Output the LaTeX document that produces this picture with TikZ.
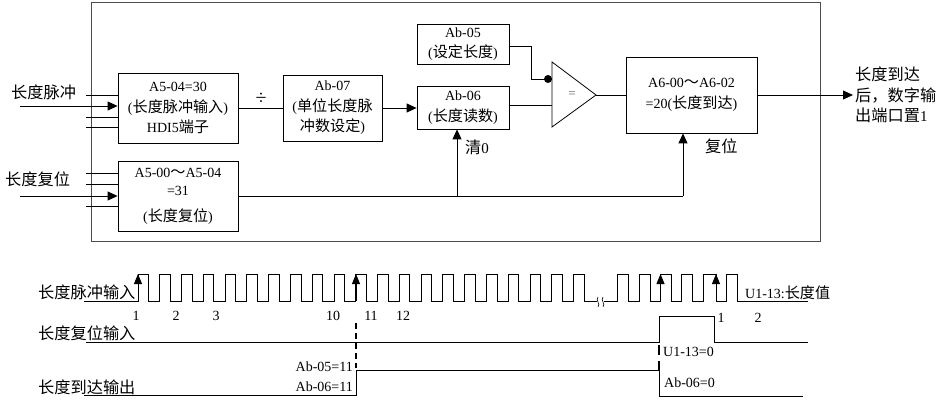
\documentclass[tikz,border=0pt]{standalone}
\usepackage{fontspec}
\setmainfont{Liberation Serif}
\newfontfamily\cjkfont[Scale=1.08]{Noto Sans CJK SC}
\newcommand\zhtxt[1]{{\cjkfont #1}}
\usetikzlibrary{arrows.meta}
\begin{document}
\begin{tikzpicture}[x=1pt,y=-1pt,
  every node/.style={inner sep=0pt},
  box/.style={draw, line width=0.8pt, align=center, font=\fontsize{14}{20.5}\selectfont},
  ln/.style={line width=0.8pt},
  arr/.style={line width=0.8pt,-{Triangle[length=10pt,width=9pt]}},
  tarr/.style={line width=0.8pt,-{Triangle[length=10pt,width=8pt]}},
  lbl/.style={font=\fontsize{15}{20.5}\selectfont},
  txt/.style={font=\fontsize{14}{18}\selectfont},
  wave/.style={line width=0.8pt},
  thickmark/.style={line width=2.2pt}
]
\useasboundingbox (0,0) rectangle (946,401);
% outer frame
\draw[line width=1pt, gray!60!black] (91,3) rectangle (820,241);

% boxes
\node[box, minimum width=120pt, minimum height=70pt] (b1) at (178,108) {A5-04=30\\(\zhtxt{长度脉冲输入})\\HDI5\zhtxt{端子}};
\node[box, minimum width=120pt, minimum height=70pt, font=\fontsize{14}{18}\selectfont] (b2) at (178,196) {A5-00\zhtxt{～}A5-04\\=31\\[8pt](\zhtxt{长度复位})};
\node[box, minimum width=99pt, minimum height=66pt] (b7) at (332.5,108) {Ab-07\\(\zhtxt{单位长度脉}\\\zhtxt{冲数设定})};
\node[box, minimum width=92pt, minimum height=43pt] (b6) at (463,107.5) {Ab-06\\(\zhtxt{长度读数})};
\node[box, minimum width=92pt, minimum height=40pt] (b5) at (463,44) {Ab-05\\(\zhtxt{设定长度})};
\node[box, minimum width=131pt, minimum height=76pt] (a6) at (691.5,95) {A6-00\zhtxt{～}A6-02\\=20(\zhtxt{长度到达})};

% comparator
\coordinate (ct) at (552,62);
\coordinate (cb) at (552,127);
\coordinate (tip) at (596,95);
\draw[ln] (ct) -- (tip) -- (cb) -- cycle;
\node[font=\fontsize{13}{13}\selectfont, text=gray!80!black] (eq) at (572,95) {=};

% input labels
\node[lbl, anchor=west] (lin1) at (11,92) {\zhtxt{长度脉冲}};
\node[lbl, anchor=west] (lin2) at (5,179) {\zhtxt{长度复位}};

% inputs to b1
\coordinate (i1) at (20,106);
\draw[arr] (i1) -- (i1 -| b1.west);
\foreach \yy/\nm in {95/s1,117/s2,127/s3}{
  \coordinate (\nm) at (86,\yy);
  \draw[ln] (\nm) -- (\nm -| b1.west);
}
% inputs to b2
\coordinate (i2) at (20,196);
\draw[arr] (i2) -- (i2 -| b2.west);
\foreach \yy/\nm in {173/t1,184/t2,206/t3}{
  \coordinate (\nm) at (86,\yy);
  \draw[ln] (\nm) -- (\nm -| b2.west);
}

% b1 -> b7
\draw[ln] (b1.east) -- (b7.west);
\node[font=\fontsize{20}{20}\selectfont] (div) at (261,99) {÷};
% b7 -> b6
\draw[arr] (b7.east) -- (b7.east -| b6.west);
% b5 -> comparator
\coordinate (k1) at (531,46);
\coordinate (k2) at (531,79);
\coordinate (cin1) at (552,79);
\draw[ln] (b5.east |- k1) -- (k1) -- (k2) -- (cin1);
\fill (548,79) circle (4pt);
% b6 -> comparator
\coordinate (cin2) at (552,105);
\draw[ln] (b6.east |- cin2) -- (cin2);
% comparator -> a6
\draw[ln] (tip) -- (tip -| a6.west);
% a6 -> output
\coordinate (out) at (853,95);
\draw[arr] (a6.east) -- (out);
\node[anchor=west, align=left, font=\fontsize{15}{20.5}\selectfont] (olab) at (855,95) {\zhtxt{长度到达}\\\zhtxt{后，数字输}\\\zhtxt{出端口置}1};

% reset lines
\coordinate (j1) at (457,196);
\coordinate (j2) at (683,196);
\draw[ln] (b2.east) -- (j2);
\draw[arr] (j1) -- (j1 |- b6.south);
\draw[arr] (j2) -- (j2 |- a6.south);
\node[lbl, anchor=west] (clr) at (465,147) {\zhtxt{清}0};
\node[lbl, anchor=west] (rst) at (705,146) {\zhtxt{复位}};

% ---------------- timing diagram ----------------
\node[lbl, anchor=west] (w1) at (38,292) {\zhtxt{长度脉冲输入}};
\node[lbl, anchor=west] (w2) at (38,333) {\zhtxt{长度复位输入}};
\node[lbl, anchor=west] (w3) at (38,387) {\zhtxt{长度到达输出}};

% pulse train part 1
\draw[wave] (84,301) foreach \k in {0,...,20}{ -- ({138+21.775*\k},301) -- ++(0,-27) -- ++(10.5,0) -- ++(0,27) } -- (597,301);
% break symbol
\draw[line width=0.6pt] (598,297) .. controls (595,300) and (601,304) .. (598,307);
\draw[line width=0.6pt] (603,297) .. controls (600,300) and (606,304) .. (603,307);
% pulse train part 2
\draw[wave] (604,301) foreach \r/\f in {617/628,639/650,660.5/671.5,681.5/692.5,703/716,726.5/737}{ -- (\r,301) -- (\r,274) -- (\f,274) -- (\f,301) } -- (808,301);
% arrows on pulses
\foreach \xx in {138,356,660.5,716}{
  \draw[tarr] (\xx,301) -- (\xx,274);
}
% numbers
\foreach \xx/\tt in {136/1,176/2,216/3,333/10,371/11,403/12}{
  \node[txt] at (\xx,316) {\tt};
}
\node[txt] at (721,318) {1};
\node[txt] at (758,318) {2};
\node[txt, anchor=west] (u113) at (745,293) {U1-13:\zhtxt{长度值}};

% reset input signal
\draw[wave] (86,342) -- (659,342) -- (659,316) -- (714,316) -- (714,342) -- (808,342);
% length reached output
\draw[wave] (84,395) -- (356,395) -- (356,370) -- (659,370) -- (659,396) -- (803,396);

% markers
\draw[thickmark, dash pattern=on 6pt off 4pt] (356,323) -- (356,368);
\draw[thickmark] (659,345) -- (659,355);
\draw[thickmark] (659,361) -- (659,371);

% timing labels
\node[txt, anchor=east] (a05) at (353,367) {Ab-05=11};
\node[txt, anchor=east] (a06) at (353,387) {Ab-06=11};
\node[txt, anchor=west] (u0) at (663,352) {U1-13=0};
\node[txt, anchor=west] (a0) at (664,383) {Ab-06=0};
\end{tikzpicture}
\end{document}
